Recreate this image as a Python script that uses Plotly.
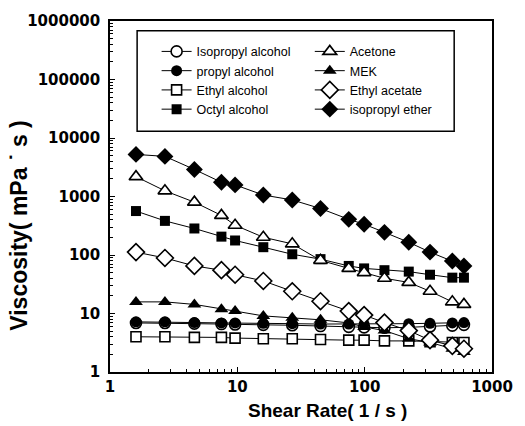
import plotly.graph_objects as go

# Shear rate (1/s) and viscosity (mPa·s) of the solvents
shear_rate = [1.6, 2.7, 4.6, 7.5, 9.6, 16, 27, 45, 75, 99, 143, 222, 326, 488, 602]

isopropyl_alcohol = [6.9, 6.9, 6.7, 6.6, 6.5, 6.4, 6.3, 6.1, 5.9, 5.8, 5.7, 5.8, 6.0, 6.2, 6.4]
propyl_alcohol = [7.2, 7.2, 7.0, 6.9, 6.9, 6.8, 6.7, 6.6, 6.6, 6.6, 6.6, 6.7, 6.8, 6.9, 7.0]
ethyl_alcohol = [4.0, 4.0, 3.9, 3.9, 3.8, 3.7, 3.7, 3.6, 3.5, 3.5, 3.4, 3.4, 3.3, 3.2, 3.2]
octyl_alcohol = [564, 383, 284, 206, 177, 136, 103, 85, 65, 59, 55, 52, 46, 41, 41]
acetone = [2185, 1250, 800, 475, 323, 201, 155, 81, 59, 50, 40, 34, 24, 15.8, 14.3]
mek = [15.8, 15.8, 14.3, 11.8, 11.0, 9.1, 8.5, 7.8, 6.9, 5.9, 5.1, 3.7, 3.2, 2.5, 2.2]
ethyl_acetate = [112, 89, 65, 55, 46, 36, 24, 16.2, 11.0, 9.4, 7.0, 5.1, 3.5, 2.8, 2.5]
isopropyl_ether = [5240, 4850, 2900, 1750, 1580, 1060, 873, 623, 407, 336, 244, 165, 112, 79, 65]

# (name, values, symbol, legend column)
series = [
    ("Isopropyl alcohol", isopropyl_alcohol, "circle-open", "legend"),
    ("propyl alcohol", propyl_alcohol, "circle", "legend"),
    ("Ethyl alcohol", ethyl_alcohol, "square-open", "legend"),
    ("Octyl alcohol", octyl_alcohol, "square", "legend"),
    ("Acetone", acetone, "triangle-up-open", "legend2"),
    ("MEK", mek, "triangle-up", "legend2"),
    ("Ethyl acetate", ethyl_acetate, "diamond-open", "legend2"),
    ("isopropyl ether", isopropyl_ether, "diamond", "legend2"),
]

fig = go.Figure()
for name, vals, sym, leg in series:
    is_open = sym.endswith("-open")
    base = sym.replace("-open", "")
    size = {"circle": 11, "square": 10, "triangle-up": 12, "diamond": 13}[base]
    fig.add_trace(go.Scatter(
        x=shear_rate, y=vals, name=name, mode="lines+markers",
        line=dict(color="black", width=1),
        marker=dict(
            symbol=base, size=size,
            color="white" if is_open else "black",
            line=dict(color="black", width=1.6 if is_open else 0),
        ),
        legend=leg,
    ))

tick_font = dict(family="DejaVu Sans", size=15, color="black")
legend_font = dict(size=12.5, family="Liberation Sans Narrow, Liberation Sans", color="black")

fig.update_layout(
    width=525, height=426,
    margin=dict(l=110, r=21, t=15, b=54),
    paper_bgcolor="white", plot_bgcolor="white",
    font=dict(family="Liberation Sans, Arial", color="black"),
    legend=dict(
        x=0.122, y=0.955, xanchor="left", yanchor="top",
        bgcolor="rgba(0,0,0,0)", font=legend_font,
        tracegroupgap=0, itemwidth=30,
    ),
    legend2=dict(
        x=0.523, y=0.955, xanchor="left", yanchor="top",
        bgcolor="rgba(0,0,0,0)", font=legend_font,
        tracegroupgap=0, itemwidth=30,
    ),
    shapes=[dict(
        type="rect", xref="paper", yref="paper",
        x0=0.071, x1=0.901, y0=0.686, y1=0.972,
        line=dict(color="black", width=1.5), fillcolor="rgba(0,0,0,0)",
    )],
    annotations=[
        dict(
            text="<b>Shear Rate( 1 / s )</b>", xref="paper", yref="paper",
            x=0.569, y=-0.109, xanchor="center", yanchor="middle", showarrow=False,
            font=dict(family="Liberation Sans, Arial", size=19, color="black"),
        ),
        dict(
            text="<b>Viscosity( mPa ˙ s )</b>", xref="paper", yref="paper",
            x=-0.238, y=0.417, xanchor="center", yanchor="middle", showarrow=False,
            textangle=-90,
            font=dict(family="Liberation Sans, Arial", size=23, color="black"),
        ),
    ],
)

fig.update_xaxes(
    type="log", range=[0, 3],
    tickvals=[1, 10, 100, 1000], ticktext=["<b>1</b>", "<b>10</b>", "<b>100</b>", "<b>1000</b>"],
    tickfont=tick_font, ticks="inside", ticklen=5, tickcolor="black",
    minor=dict(ticks="inside", ticklen=3, tickcolor="black", dtick="D1", showgrid=False),
    showline=True, linecolor="black", linewidth=1.5, mirror=True,
    showgrid=False, zeroline=False,
)
fig.update_yaxes(
    type="log", range=[0, 6],
    tickvals=[1, 10, 100, 1000, 10000, 100000, 1000000],
    ticktext=["<b>%d</b>" % v for v in [1, 10, 100, 1000, 10000, 100000, 1000000]],
    tickfont=tick_font, ticks="inside", ticklen=5, tickcolor="black",
    ticklabelstandoff=5,
    minor=dict(ticks="inside", ticklen=3, tickcolor="black", dtick="D1", showgrid=False),
    showline=True, linecolor="black", linewidth=1.5, mirror=True,
    showgrid=False, zeroline=False,
)

fig.write_html("out.html")
